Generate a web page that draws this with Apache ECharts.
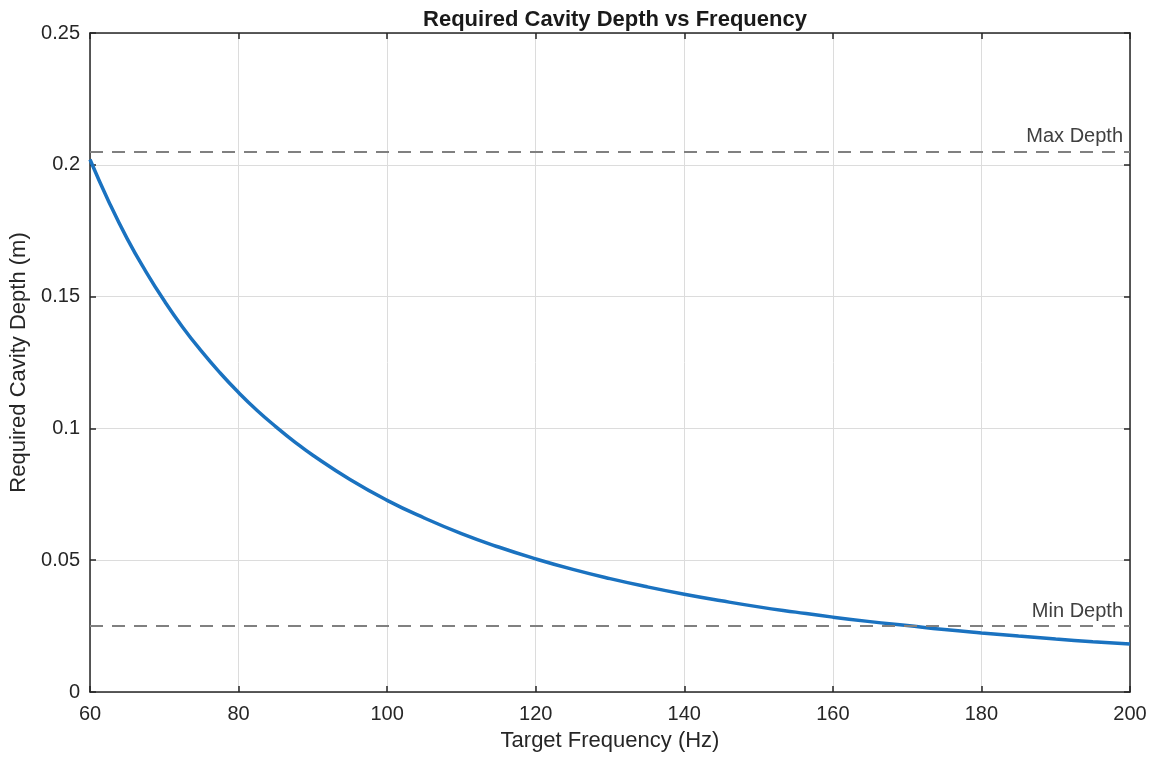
<!DOCTYPE html>
<html>
<head>
<meta charset="utf-8">
<script src="https://cdn.jsdelivr.net/npm/echarts@6/dist/echarts.min.js"></script>
<style>
  html, body { margin: 0; padding: 0; background: #fff; }
  #chart { width: 1154px; height: 757px; }
</style>
</head>
<body>
<div id="chart"></div>
<script>
// frequency (Hz) and required depth (m)
const freqs = [60, 62.5, 65, 67.5, 70, 72.5, 75, 77.5, 80, 82.5, 85, 87.5, 90, 95, 100,
  105, 110, 115, 120, 125, 130, 135, 140, 145, 150, 155, 160, 165, 170, 175, 180,
  185, 190, 195, 200]
const depths = [0.202, 0.1862, 0.172, 0.1596, 0.1484, 0.1383, 0.1293, 0.1211, 0.1136,
  0.1068, 0.1007, 0.0950, 0.0898, 0.0806, 0.0727, 0.0660, 0.0601, 0.0550, 0.0505,
  0.0465, 0.0430, 0.0399, 0.0371, 0.0346, 0.0323, 0.0303, 0.0284, 0.0267, 0.0252,
  0.0237, 0.0224, 0.0212, 0.0201, 0.0191, 0.0182]
const maxDepth = 0.205
const minDepth = 0.025

const font = 'Liberation Sans, Arial, sans-serif'
const axisColor = '#262626'
const gridColor = '#dcdcdc'

const myChart = echarts.init(document.getElementById('chart'))

const baseAxis = {
  type: 'value',
  axisLine: { show: true, onZero: false, lineStyle: { color: axisColor, width: 1.5 } },
  axisTick: { show: true, inside: true, length: 6, lineStyle: { color: axisColor, width: 1.5 } },
  splitLine: { show: false }
}

myChart.setOption({
  animation: false,
  title: {
    text: 'Required Cavity Depth vs Frequency',
    left: 610,
    textAlign: 'center',
    top: 4,
    textStyle: { fontFamily: font, fontSize: 22, fontWeight: 'bold', color: '#1a1a1a' }
  },
  grid: { left: 90, right: 24, top: 33, bottom: 65 },
  xAxis: [
    Object.assign({}, baseAxis, {
      min: 60, max: 200, interval: 20,
      position: 'bottom',
      name: 'Target Frequency (Hz)',
      nameLocation: 'middle',
      nameGap: 38,
      nameTextStyle: { fontFamily: font, fontSize: 22, color: '#262626' },
      axisLabel: { fontFamily: font, fontSize: 20, color: '#262626', margin: 12 },
      splitLine: { show: true, lineStyle: { color: gridColor, width: 1 } }
    }),
    Object.assign({}, baseAxis, {
      min: 60, max: 200, interval: 20,
      position: 'top',
      axisLabel: { show: false }
    })
  ],
  yAxis: [
    Object.assign({}, baseAxis, {
      min: 0, max: 0.25, interval: 0.05,
      position: 'left',
      name: 'Required Cavity Depth (m)',
      nameLocation: 'middle',
      nameGap: 55,
      nameTextStyle: { fontFamily: font, fontSize: 22, color: '#262626' },
      axisLabel: { fontFamily: font, fontSize: 20, color: '#262626', margin: 10 },
      splitLine: { show: true, lineStyle: { color: gridColor, width: 1 } }
    }),
    Object.assign({}, baseAxis, {
      min: 0, max: 0.25, interval: 0.05,
      position: 'right',
      axisLabel: { show: false }
    })
  ],
  series: [
    {
      type: 'line',
      data: freqs.map((f, i) => [f, depths[i]]),
      smooth: true,
      showSymbol: false,
      lineStyle: { color: '#1a72c0', width: 3.5 },
      markLine: {
        silent: true,
        symbol: 'none',
        precision: 3,
        lineStyle: { color: '#808080', type: [13, 9], width: 2 },
        label: {
          position: 'insideEndTop',
          fontFamily: font,
          fontSize: 20,
          color: '#404040',
          distance: [7, 5]
        },
        data: [
          { yAxis: maxDepth, label: { formatter: 'Max Depth' } },
          { yAxis: minDepth, label: { formatter: 'Min Depth' } }
        ]
      }
    }
  ]
})
</script>
</body>
</html>
